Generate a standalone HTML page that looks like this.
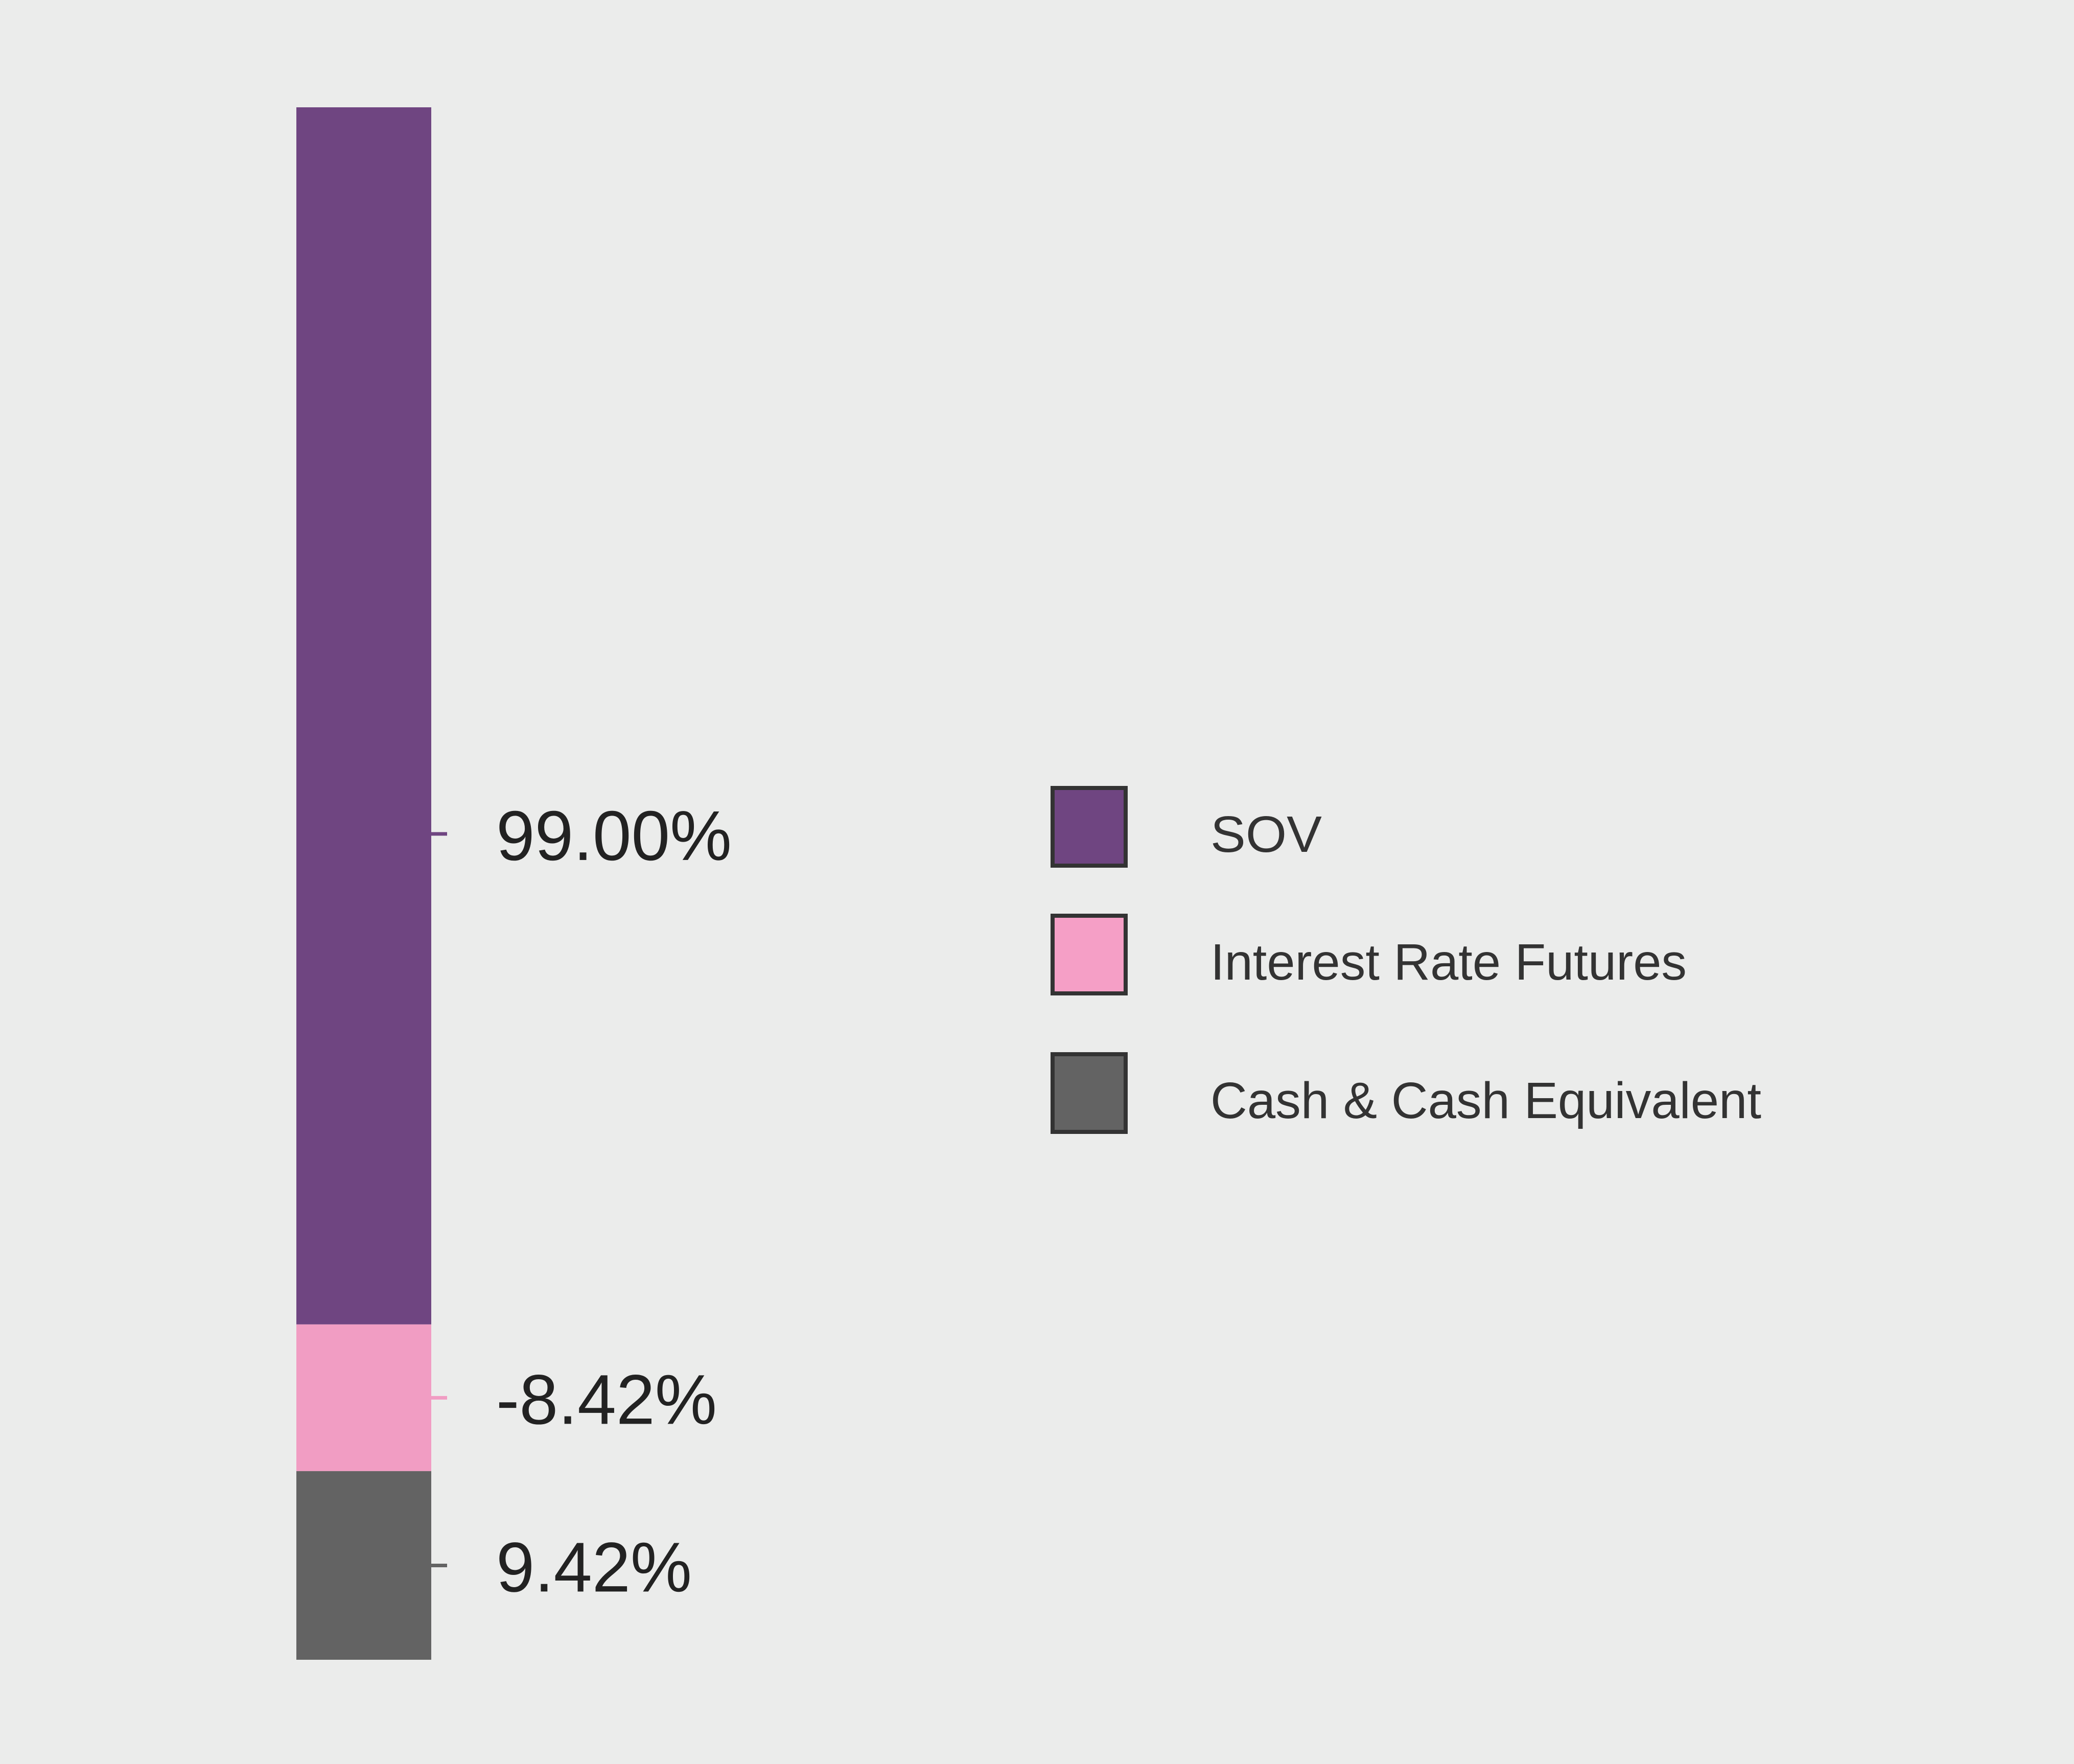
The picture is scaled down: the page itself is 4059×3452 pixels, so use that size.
<!DOCTYPE html>
<html><head><meta charset="utf-8"><style>
html,body{margin:0;padding:0;background:#ebeceb;}
svg{display:block;}
</style></head><body>
<svg id="chart" width="4059" height="3452" viewBox="0 0 4059 3452" xmlns="http://www.w3.org/2000/svg">
<rect x="0" y="0" width="4059" height="3452" fill="#ebeceb"/>
<g id="bar"></g>
<g id="legend"></g>
</svg>
<script>
const categories = ["SOV", "Interest Rate Futures", "Cash & Cash Equivalent"];
const labelValues = [99.00, -8.42, 9.42];
const labelTexts = ["99.00%", "-8.42%", "9.42%"];
// visual share of bar height per segment (percent of bar)
const segmentShares = [78.4, 9.45, 12.15];
const tickFractions = [0.597, 0.5, 0.5];
const colors = ["#6f4581", "#f19dc3", "#636363"];
const legendColors = ["#6f4581", "#f59fc6", "#636363"];

const NS = "http://www.w3.org/2000/svg";
const barTop = 210, barBottom = 3248, barX = 580, barW = 264;
function yScale(v){ return barTop + (v/100)*(barBottom-barTop); }
const bar = document.getElementById('bar');
let cum = 0;
categories.forEach((c,i)=>{
  const y0 = yScale(cum), y1 = yScale(cum+segmentShares[i]);
  cum += segmentShares[i];
  const r = document.createElementNS(NS,'rect');
  
  
  r.setAttribute('x',barX); r.setAttribute('y',y0);
  r.setAttribute('width',barW); r.setAttribute('height',y1-y0);
  r.setAttribute('fill',colors[i]);
  bar.appendChild(r);
  const ty = y0 + (y1-y0)*tickFractions[i];
  const t = document.createElementNS(NS,'line');
  
  
  t.setAttribute('x1',barX+barW); t.setAttribute('x2',barX+barW+31);
  t.setAttribute('y1',ty); t.setAttribute('y2',ty);
  t.setAttribute('stroke',colors[i]); t.setAttribute('stroke-width',7);
  bar.appendChild(t);
  const tx = document.createElementNS(NS,'text');
  
  
  tx.setAttribute('x',971); tx.setAttribute('y',ty+51);
  tx.setAttribute('font-family','"Liberation Sans", sans-serif');
  tx.setAttribute('font-size',138);
  tx.setAttribute('fill','#222');
  const widths = {"99.00%":461,"-8.42%":432,"9.42%":383};
  if (widths[labelTexts[i]]) { tx.setAttribute('textLength',widths[labelTexts[i]]); tx.setAttribute('lengthAdjust','spacingAndGlyphs'); }
  tx.textContent = labelTexts[i];
  bar.appendChild(tx);
});
const legend = document.getElementById('legend');
const legTops = [1538, 1788, 2059];
const legWidths = [218, 932, 1078];
categories.forEach((c,i)=>{
  const r = document.createElementNS(NS,'rect');
  
  
  r.setAttribute('x',2060); r.setAttribute('y',legTops[i]+4);
  r.setAttribute('width',143); r.setAttribute('height',152);
  r.setAttribute('fill',legendColors[i]); r.setAttribute('stroke','#333'); r.setAttribute('stroke-width',8);
  legend.appendChild(r);
  const t = document.createElementNS(NS,'text');
  
  
  t.setAttribute('x',2369); t.setAttribute('y',legTops[i]+129);
  t.setAttribute('font-family','"Liberation Sans", sans-serif');
  t.setAttribute('font-size',100); t.setAttribute('fill','#333');
  t.setAttribute('textLength',legWidths[i]); t.setAttribute('lengthAdjust','spacingAndGlyphs');
  t.textContent = c;
  legend.appendChild(t);
});
</script>
</body></html>
